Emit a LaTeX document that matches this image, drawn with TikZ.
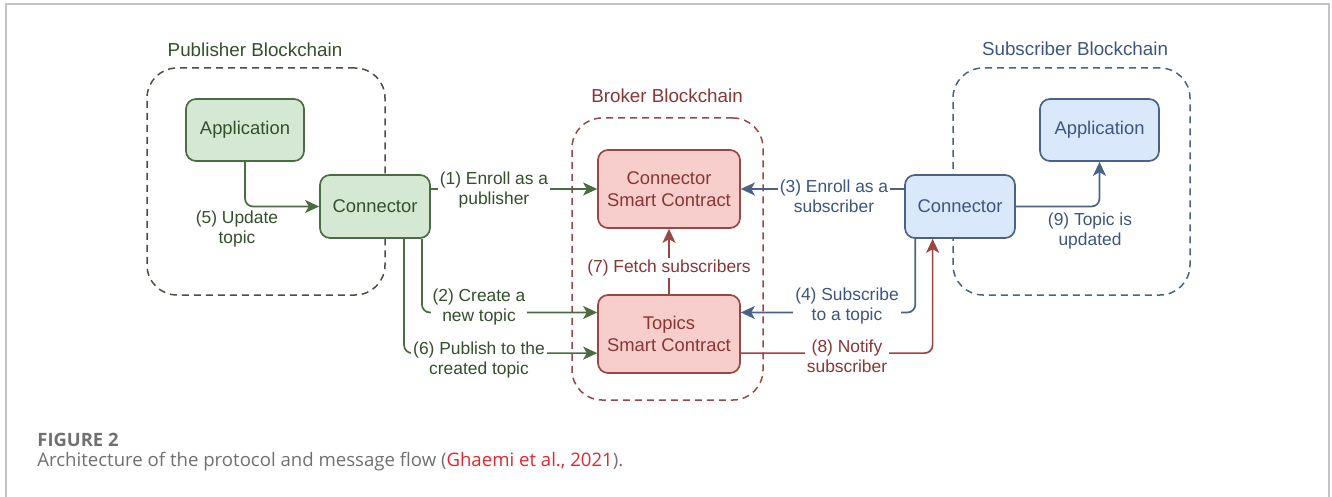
\documentclass[tikz,border=0pt]{standalone}
\usepackage{fontspec}
\setmainfont{Liberation Sans}
\newfontfamily\capfont{Open Sans}
\usetikzlibrary{arrows.meta,calc}

\definecolor{gfill}{HTML}{D5E8D4}
\definecolor{gline}{HTML}{4B6B42}
\definecolor{gtext}{HTML}{33502B}
\definecolor{rfill}{HTML}{F8CECC}
\definecolor{rline}{HTML}{9A4744}
\definecolor{rtext}{HTML}{8A3533}
\definecolor{bfill}{HTML}{DAE8FC}
\definecolor{bline}{HTML}{4A6288}
\definecolor{btext}{HTML}{3D5580}
\definecolor{pdash}{HTML}{4D4D40}
\definecolor{framegray}{HTML}{C4C4C4}
\definecolor{captxt}{HTML}{707070}
\definecolor{citered}{HTML}{E3262D}

\tikzset{
  box/.style={draw, rounded corners=5pt, line width=0.85pt, align=center,
    font=\fontsize{9.2}{11}\selectfont, inner sep=0pt},
  gbox/.style={box, fill=gfill, draw=gline, text=gtext},
  rbox/.style={box, fill=rfill, draw=rline, text=rtext},
  bbox/.style={box, fill=bfill, draw=bline, text=btext},
  cont/.style={draw, dash pattern=on 3.5pt off 2.5pt, rounded corners=15pt,
    line width=0.75pt, inner sep=0pt},
  title/.style={font=\fontsize{9.4}{11}\selectfont},
  lbl/.style={fill=white, inner sep=1pt, align=center,
    font=\fontsize{8.7}{10}\selectfont},
  arr/.style={line width=0.85pt, rounded corners=4pt,
    -{Stealth[length=7pt,width=6.5pt,inset=1.8pt]}},
  garr/.style={arr, draw=gline},
  rarr/.style={arr, draw=rline},
  barr/.style={arr, draw=bline},
}

\begin{document}
\begin{tikzpicture}[x=0.5pt,y=-0.5pt]
\useasboundingbox (0,0) rectangle (1332,497);

% page frame (open at the bottom)
\draw[framegray, line width=0.75pt] (6,497) -- (6,4) -- (1329,4) -- (1329,497);

% blockchain containers
\node[cont, draw=pdash, minimum width=119pt, minimum height=113.5pt] (pubbc) at (266,181.5) {};
\node[cont, draw=rline, minimum width=95.5pt, minimum height=141pt] (brkbc) at (667.5,259) {};
\node[cont, draw=bline, minimum width=118.5pt, minimum height=113.5pt] (subbc) at (1071.5,181.5) {};

\node[title, text=gtext] (pubtitle) at (255,50) {Publisher Blockchain};
\node[title, text=rtext] (brktitle) at (667,96) {Broker Blockchain};
\node[title, text=btext] (subtitle) at (1075,49) {Subscriber Blockchain};

% components
\node[gbox, minimum width=59pt, minimum height=31pt] (pubapp) at (245,130) {Application};
\node[gbox, minimum width=55pt, minimum height=31.5pt] (pubconn) at (375,206.5) {Connector};
\node[rbox, minimum width=71pt, minimum height=39pt] (csc) at (669,189) {Connector\\Smart Contract};
\node[rbox, minimum width=71pt, minimum height=39pt] (topics) at (669,334) {Topics\\Smart Contract};
\node[bbox, minimum width=59.5pt, minimum height=31pt] (subapp) at (1099.5,130) {Application};
\node[bbox, minimum width=55pt, minimum height=31.5pt] (subconn) at (960,206.5) {Connector};

% attachment points on the box sides
\coordinate (p2) at ($(pubconn.south west)!0.92!(pubconn.south east)$);
\coordinate (p6) at ($(pubconn.south west)!0.76!(pubconn.south east)$);
\coordinate (t2) at ($(topics.north west)!0.23!(topics.south west)$);
\coordinate (t6) at ($(topics.north west)!0.74!(topics.south west)$);
\coordinate (t4) at ($(topics.north east)!0.23!(topics.south east)$);
\coordinate (t8) at ($(topics.north east)!0.74!(topics.south east)$);
\coordinate (s4) at ($(subconn.south west)!0.10!(subconn.south east)$);
\coordinate (s8) at ($(subconn.south west)!0.255!(subconn.south east)$);

% publisher side
\draw[garr] (pubapp.south) |- (pubconn.west);
\draw[garr] (pubconn.east |- csc.west) -- (csc.west);
\draw[garr] (p2) |- (t2);
\draw[garr] (p6) |- (t6);

% broker internal
\draw[rarr] (topics.north) -- (csc.south);

% subscriber side
\draw[barr] (subconn.west |- csc.east) -- (csc.east);
\draw[barr] (s4) |- (t4);
\draw[rarr] (t8) -| (s8);
\draw[barr] (subconn.east) -| (subapp.south);

% edge labels
\node[lbl, text=gtext] (l5) at (237,229) {(5) Update\\topic};
\node[lbl, text=gtext] (l1) at (494,190) {(1) Enroll as a\\publisher};
\node[lbl, text=gtext] (l2) at (479,307) {(2) Create a\\new topic};
\node[lbl, text=gtext] (l6) at (479,360) {(6) Publish to the\\created topic};
\node[lbl, text=rtext] (l7) at (669,268) {(7) Fetch subscribers};
\node[lbl, text=btext] (l3) at (834,196) {(3) Enroll as a\\subscriber};
\node[lbl, text=btext] (l4) at (847,306) {(4) Subscribe\\to a topic};
\node[lbl, text=rtext] (l8) at (847,356) {(8) Notify\\subscriber};
\node[lbl, text=btext, fill=none] (l9) at (1090,231) {(9) Topic is\\updated};

% caption
\node[anchor=base west, inner sep=0pt, text=captxt, font=\capfont\bfseries\fontsize{9.2}{11}\selectfont] (fig) at (37,446) {FIGURE 2};
\node[anchor=base west, inner sep=0pt, text=captxt, font=\capfont\fontsize{9.3}{11}\selectfont] (cap) at (37,466)
  {Architecture of the protocol and message flow ({\color{citered}Ghaemi et al., 2021}).};
\end{tikzpicture}
\end{document}
